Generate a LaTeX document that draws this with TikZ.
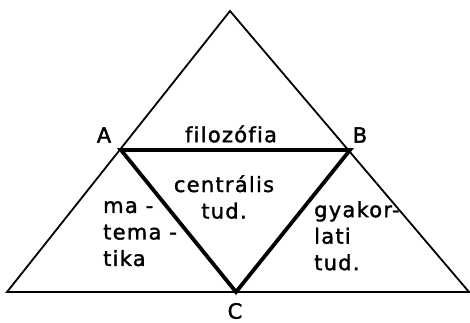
\documentclass[tikz,border=0pt]{standalone}
\usepackage{fontspec}
\setmainfont{DejaVu Sans}[LetterSpace=6, FakeBold=1.6, Ligatures={NoCommon}]
\usepackage{tikz}
\usetikzlibrary{positioning}

\begin{document}
\begin{tikzpicture}[
    x=1pt, y=-1pt,
    thinline/.style={line width=1.8pt, line join=miter},
    thickline/.style={line width=3.8pt, line join=miter},
    label/.style={font=\fontsize{21}{26.5}\selectfont, inner sep=0pt},
    block/.style={label, align=left, anchor=north west},
]
\useasboundingbox (0,0) rectangle (470,323);

% Outer triangle
\coordinate (top) at (230,11);
\coordinate (left) at (7,292);
\coordinate (right) at (469,292);
\draw[thinline] (top) -- (right) -- (left) -- cycle;

% Inner triangle
\coordinate (A) at (121,150);
\coordinate (B) at (350,150);
\coordinate (C) at (236,292);
\draw[thickline] (A) -- (B) -- (C) -- cycle;

% Corner letters
\node[label] (la) at (104,135) {A};
\node[label] (lb) at (360,135) {B};
\node[label] (lc) at (235,311) {C};

% Field names
\node[label] (filo) at (231,134) {filozófia};
\node[label, align=center] (centr) at (224,197) {centrális\\tud.};
\node[block] (mat) at (103,201) {ma -\\tema -\\tika};
\node[block] (gyak) at (314,201) {gyakor-\\lati\\tud.};
\end{tikzpicture}
\end{document}
